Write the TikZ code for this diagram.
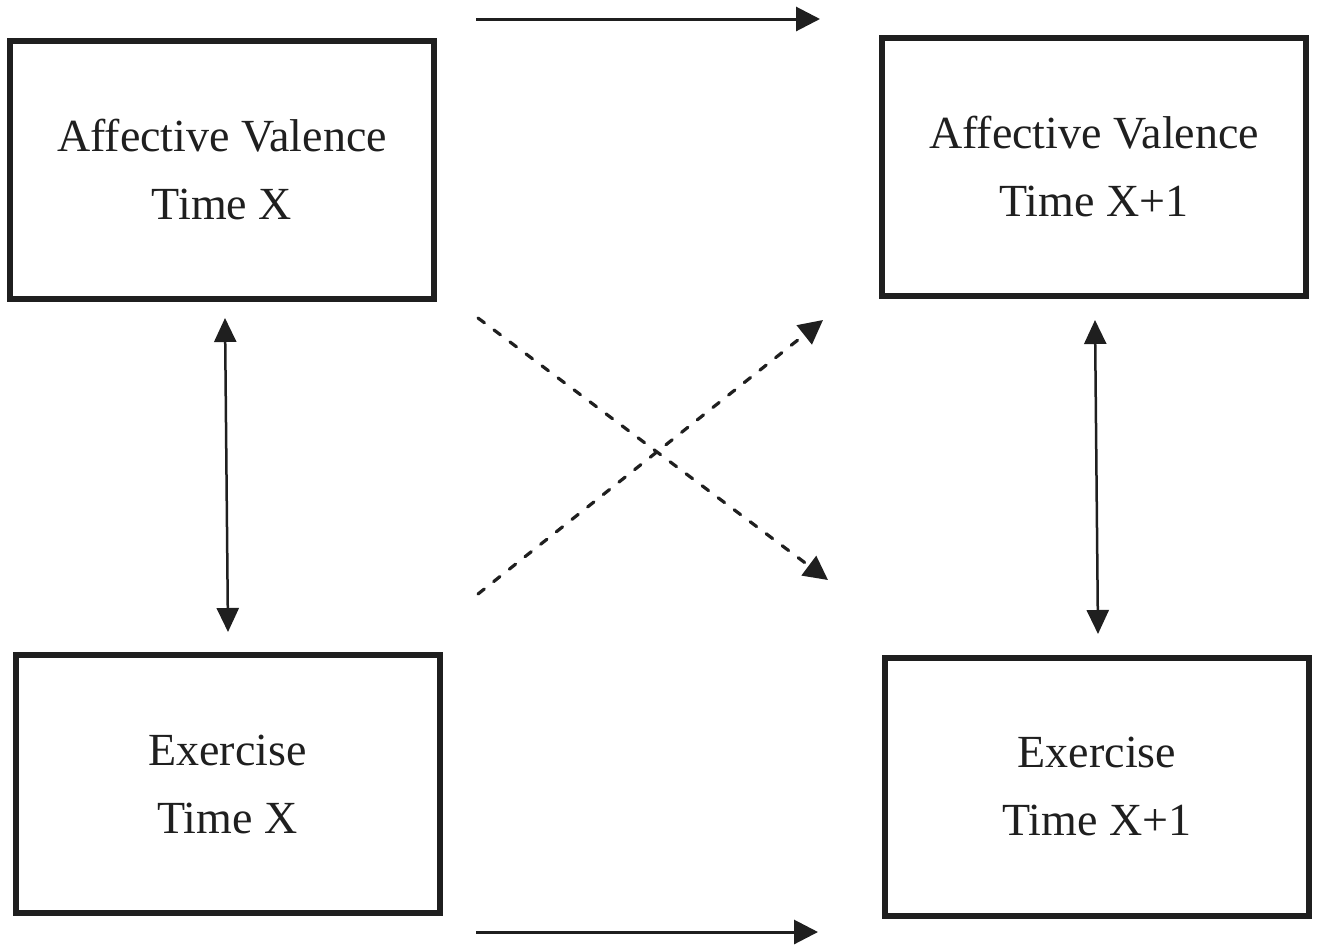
\documentclass[tikz,border=0pt]{standalone}
\usepackage{fontspec}
\setmainfont{Liberation Serif}
\usetikzlibrary{arrows.meta}
\begin{document}
\begin{tikzpicture}[x=1pt,y=-1pt,
  varbox/.style={draw=black!88,line width=6pt,minimum width=424pt,minimum height=258pt,
    align=center,inner sep=0pt,font=\fontsize{46}{68}\selectfont,text=black!88},
  path arrow/.style={draw=black!88,line width=3pt,-{Triangle[length=24pt,width=24pt]}},
  corr arrow/.style={draw=black!88,line width=2.5pt,{Triangle[length=24pt,width=22pt]}-{Triangle[length=24pt,width=22pt]}},
  cross arrow/.style={draw=black!88,line width=3.2pt,line cap=round,dash pattern=on 8pt off 12pt,
    -{Triangle[length=24pt,width=24pt,line cap=butt]}}]
\useasboundingbox (0,0) rectangle (1319,946);
\node[varbox] (av1) at (222,170) {Affective Valence\\Time X};
\node[varbox] (av2) at (1094,166.5) {Affective Valence\\Time X+1};
\node[varbox] (ex1) at (227.5,784) {Exercise\\Time X};
\node[varbox] (ex2) at (1097,786.5) {Exercise\\Time X+1};
\coordinate (ta) at (476,19);
\coordinate (tb) at (820,19);
\coordinate (ba) at (476,932);
\coordinate (bb) at (818,932);
\coordinate (la) at (225,318);
\coordinate (lb) at (228,632);
\coordinate (ra) at (1095,320);
\coordinate (rb) at (1098,634);
\coordinate (d1a) at (478,318);
\coordinate (d1b) at (828,580);
\coordinate (d2a) at (478,594);
\coordinate (d2b) at (823,320);
\draw[path arrow] (ta) -- (tb);
\draw[path arrow] (ba) -- (bb);
\draw[corr arrow] (la) -- (lb);
\draw[corr arrow] (ra) -- (rb);
\draw[cross arrow] (d1a) -- (d1b);
\draw[cross arrow] (d2a) -- (d2b);
\end{tikzpicture}
\end{document}
